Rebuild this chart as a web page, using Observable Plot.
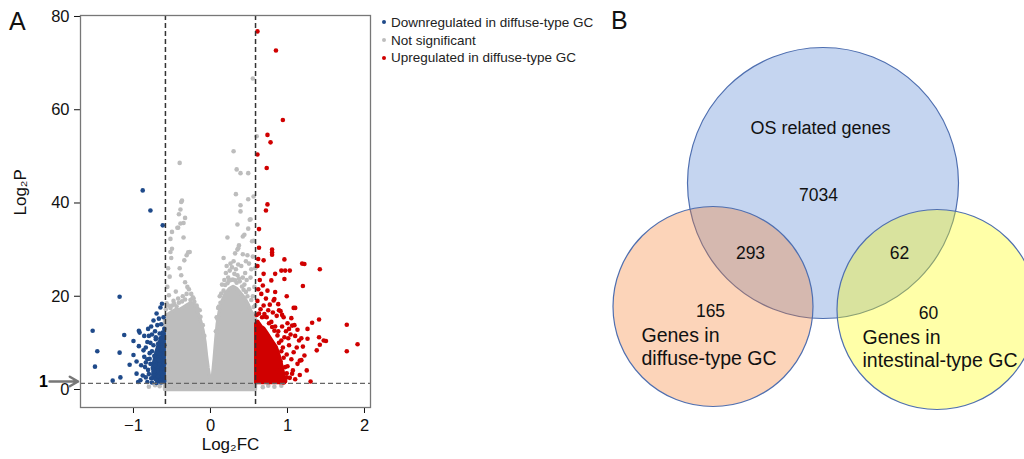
<!DOCTYPE html>
<html><head><meta charset="utf-8">
<script src="https://cdn.jsdelivr.net/npm/d3@7"></script>
<script src="https://cdn.jsdelivr.net/npm/@observablehq/plot@0.6"></script>
<style>
body{margin:0;background:#fff;font-family:"Liberation Sans",Arial,sans-serif;}
#fig{position:relative;width:1024px;height:459px;overflow:hidden;background:#fff}
.panel{position:absolute;font-size:25px;color:#111;line-height:1}
#legend{position:absolute;left:382px;top:14px;font-size:13.5px;line-height:17.7px;color:#222}
#legend .dot{display:inline-block;width:4px;height:4px;border-radius:50%;margin-right:5px;vertical-align:middle;position:relative;top:-1px}
#volcano,#venn{position:absolute;top:0}
#volcano{left:0}
#venn{left:600px}
</style></head>
<body>
<div id="fig">
  <div class="panel" style="left:9px;top:9px">A</div>
  <div class="panel" style="left:611px;top:8px">B</div>
  <div id="volcano"></div>
  <div id="legend"></div>
  <div id="venn"></div>
</div>
<script>
// ---------- Panel A data ----------
const xTicks = [-1, 0, 1, 2];
const yTicks = [0, 20, 40, 60, 80];
const fcThresholds = [-0.585, 0.585];
const pThreshold = 1.3;

const legendLabels = ["Downregulated in diffuse-type GC", "Not significant", "Upregulated in diffuse-type GC"];
const groupColors = ["#1f4a8a", "#bdbdbd", "#d00000"];

// dense grey cloud envelope (log2FC, upper log2P)
const greyCoreX = [-0.59,-0.55,-0.5,-0.45,-0.4,-0.35,-0.3,-0.25,-0.2,-0.16,-0.12,-0.09,-0.065,-0.045,-0.025,-0.005,0.015,0.035,0.055,0.075,0.095,0.12,0.16,0.2,0.25,0.3,0.35,0.4,0.45,0.5,0.55,0.59];
const greyCoreTop = [15.5,16,16.5,17,17,17.5,18,18.5,18,16.5,14.5,12.5,10,7,4.5,2.5,1.3,3,6.5,10.5,14,16.5,19,20.5,21.5,22,21.5,20.5,19.5,18,16,15];

// dense red cloud envelope
const redCoreX = [0.595,0.62,0.66,0.70,0.74,0.78,0.82,0.86,0.90,0.94,0.97];
const redCoreTop = [14,14.5,13.5,13,12,11,10,9,7,4.5,2];

// dense blue cloud envelope
const blueCoreX = [-0.74,-0.70,-0.66,-0.62,-0.595];
const blueCoreTop = [5,8,10,11.5,12];
const blueCoreBottom = [2.5,2,1.6,1.5,1.5];

const greyPoints = [
[-0.40,48.6],[-0.38,40.2],[-0.37,40.5],[-0.39,38.6],[-0.41,37.6],[-0.33,36.8],[-0.39,35.6],[-0.42,34.7],[-0.35,35.7],[-0.43,34.7],
[-0.50,33.8],[-0.52,32.3],[-0.35,32.6],[-0.27,29.5],[-0.52,29.5],[-0.51,28.2],[-0.50,30.2],[-0.29,29.4],[-0.31,28.8],[-0.34,27.7],
[-0.55,26.0],[-0.53,24.2],[-0.56,22.0],[-0.54,20.2],[-0.40,26.0],[-0.38,24.5],[-0.33,23.0],[-0.30,22.0],[-0.28,21.5],[-0.25,20.5],
[-0.22,19.5],[-0.45,21.0],[-0.48,19.0],[-0.42,19.5],[-0.36,20.0],[-0.57,18.5],[-0.50,18.0],[-0.26,19.2],[-0.18,18.0],[-0.14,17.0],
[-0.58,17.2],[-0.55,18.0],[-0.52,17.5],[-0.47,18.3],[-0.44,17.8],[-0.41,18.6],[-0.37,18.9],[-0.33,19.3],[-0.31,20.5],[-0.23,19.8],
[-0.21,18.8],[-0.17,17.4],[-0.13,15.6],[-0.10,13.8],[-0.08,11.5],
[0.55,66.7],[0.60,54.3],[0.30,51.1],[0.34,47.2],[0.39,46.4],[0.49,46.4],[0.33,41.9],[0.39,39.5],[0.39,38.2],[0.49,40.8],
[0.56,41.4],[0.35,35.4],[0.51,36.4],[0.52,36.5],[0.49,34.5],[0.42,32.8],[0.44,33.2],[0.22,32.6],[0.54,31.8],[0.56,31.9],
[0.36,30.3],[0.37,30.9],[0.17,28.2],[0.35,30.0],[0.30,27.5],[0.26,27.0],[0.28,26.2],[0.33,25.8],[0.40,26.5],[0.45,25.0],
[0.50,27.0],[0.55,28.5],[0.58,26.0],[0.20,25.0],[0.23,24.0],[0.47,23.5],[0.52,24.0],[0.57,22.0],[0.15,22.5],[0.18,23.5],
[0.35,24.5],[0.42,24.0],[0.12,20.0],[0.55,20.0],[0.50,21.5],[0.58,18.0],[0.27,23.5],[0.31,24.8],[0.38,23.2],[0.44,22.5],
[0.10,17.5],[0.08,15.5],
[0.07,12.5],[0.09,15.2],[0.11,17.8],[0.13,18.6],[0.14,20.6],[0.17,21.2],[0.19,22.4],[0.22,22.8],[0.24,23.3],[0.29,23.6],
[0.32,23.4],[0.34,22.9],[0.37,23.8],[0.41,22.1],[0.43,21.4],[0.46,20.9],[0.48,20.0],[0.53,19.2],[0.56,17.7],[0.58,16.3],
[0.21,26.5],[0.25,25.5],[0.36,26.8],[0.46,27.5],[0.53,25.8],[0.48,28.8],[0.32,29.2],[0.42,29.0],
[-0.72,0.9],[-0.66,0.7],[-0.80,0.6],[0.75,0.8],[0.92,0.8],[0.68,0.5],[0.83,0.6]
];

const downPoints = [
[-0.88,42.7],[-0.78,38.4],[-0.62,35.2],[-1.18,19.9],[-1.53,12.6],[-1.47,8.2],[-1.50,4.9],[-1.27,1.9],[-1.17,2.6],[-1.18,7.9],
[-1.12,11.7],[-1.00,10.4],[-0.92,12.2],[-0.93,12.6],[-0.93,9.3],[-1.05,5.3],[-1.00,7.4],[-0.96,6.0],[-0.96,3.4],[-0.94,1.6],
[-0.87,8.4],[-0.82,10.2],[-0.80,11.5],[-0.81,13.0],[-0.74,14.8],[-0.70,16.3],[-0.65,17.6],[-0.63,18.4],[-0.67,15.2],[-0.69,13.8],
[-0.64,14.0],[-0.61,15.5],[-0.60,13.0],[-0.62,12.2],[-0.66,12.0],[-0.72,12.5],[-0.76,11.8],[-0.78,10.0],[-0.74,9.5],[-0.71,10.8],
[-0.68,9.8],[-0.63,10.5],[-0.60,9.5],[-0.84,9.0],[-0.86,7.0],[-0.82,6.5],[-0.79,7.8],[-0.76,8.2],[-0.73,7.2],[-0.70,6.5],
[-0.67,7.8],[-0.64,8.5],[-0.61,7.2],[-0.90,5.2],[-0.85,4.8],[-0.81,4.2],[-0.78,5.5],[-0.75,4.6],[-0.72,5.2],[-0.69,4.0],
[-0.66,5.5],[-0.63,4.5],[-0.60,5.5],[-0.88,3.0],[-0.84,2.6],[-0.80,3.3],[-0.77,2.4],[-0.74,3.2],[-0.71,2.2],[-0.68,2.8],
[-0.65,2.0],[-0.62,3.0],[-0.60,1.8],[-0.82,1.6],[-0.76,1.5],[-0.70,1.4],[-0.64,1.5],[-0.91,2.0],[-0.86,11.5],[-0.77,13.5],
[-0.71,11.2],[-0.65,11.0],[-0.62,9.0],[-0.67,6.3],[-0.73,3.9],[-0.79,6.6],[-0.84,5.8]
];

const upPoints = [
[0.61,76.8],[0.85,72.7],[0.94,57.8],[0.74,54.6],[0.78,53.0],[0.61,50.4],[0.73,47.5],[0.74,39.7],[0.72,38.4],[0.63,34.4],
[0.63,30.4],[0.80,30.0],[0.80,29.4],[0.80,28.9],[0.69,27.7],[0.96,27.9],[1.19,27.0],[1.22,26.9],[1.42,25.8],[0.92,25.5],
[0.97,25.5],[1.03,25.5],[0.84,24.8],[0.69,24.8],[0.96,23.7],[0.79,23.4],[0.68,22.3],[1.20,22.2],[0.84,20.9],[0.99,20.0],
[0.82,19.1],[0.83,19.4],[0.69,18.0],[1.08,17.5],[1.10,17.5],[0.62,28.0],[0.61,26.5],[0.64,23.5],[0.62,21.5],[0.66,20.5],
[0.74,21.2],[0.72,19.5],[0.61,19.0],[0.77,18.2],[0.65,17.2],[0.75,17.0],[0.88,18.3],[0.91,16.8],[0.81,16.5],[0.70,16.2],
[0.86,15.8],[0.95,15.5],[1.05,15.3],[1.00,14.2],[0.93,13.5],[0.98,12.5],[1.04,11.8],[1.10,11.5],[1.41,15.0],[1.32,14.3],
[1.77,13.9],[1.26,13.0],[1.41,11.2],[1.47,10.5],[1.50,10.4],[1.42,9.6],[1.91,9.7],[1.77,8.2],[1.38,8.4],[1.26,10.9],
[1.22,7.3],[1.16,6.2],[1.18,6.3],[1.25,4.1],[1.16,3.1],[1.30,1.7],[1.07,4.1],[1.12,9.0],[1.15,10.5],[1.08,8.0],
[1.02,9.5],[1.05,6.5],[0.99,7.5],[1.00,5.0],[1.03,2.5],[0.97,1.8],[1.10,2.2],[0.92,10.5],[0.88,12.5],[0.84,13.5],
[0.79,14.5],[0.73,15.5],[1.13,12.8],[1.18,11.0],[1.20,9.2],[1.09,13.8],[1.02,13.0],[0.96,11.2],[0.94,9.0],[1.13,5.5],
[1.06,3.4],[0.99,3.5],[0.89,17.0],[0.93,16.0],[1.06,13.7],[0.91,6.0],[0.88,4.0],[0.86,2.2],[0.93,3.0],[1.01,11.0],
[0.60,16.0],[0.63,16.3],[0.67,15.5],[0.71,15.6],[0.76,14.2],[0.80,13.4],[0.83,12.6],[0.87,11.6],[0.89,10.0],[0.92,8.2],
[0.95,6.8],[0.97,4.8],[0.99,2.6],[0.90,1.6],[0.95,1.5]
];

// ---------- Panel B data ----------
const vennCounts = [7034, 293, 62, 165, 60];
const vennRegions = ["OS only", "OS ∩ diffuse", "OS ∩ intestinal", "diffuse only", "intestinal only"];
const vennSetNames = ["OS related genes", "Genes in\ndiffuse-type GC", "Genes in\nintestinal-type GC"];

// layout (pixels of the figure)
const vennCircleLayout = [
  {cx: 822.5, cy: 182.5, r: 135.5, fill: "#c5d5f0", op: 1},
  {cx: 712.5, cy: 306, r: 100, fill: "rgb(245,125,43)", op: 0.33},
  {cx: 936.5, cy: 309, r: 100, fill: "rgb(255,255,3)", op: 0.345}
];
const vennCountPos = [[818,195],[750,253],[899,253],[710,311],[928,313]];
const vennNamePos = [[820,127,"middle",18],[641,345.5,"start",19.5],[862,348,"start",19.5]];

// ---------- Panel A ----------
const tbl = a => a.map(([x, y]) => ({x, y}));
const font = '"Liberation Sans", Arial, sans-serif';
const fmt = d => d < 0 ? "\u2212" + Math.abs(d) : String(d);
const volcano = Plot.plot({
  width: 380, height: 459,
  marginLeft: 80, marginRight: 10, marginTop: 15, marginBottom: 52,
  style: {fontFamily: font, fontSize: "16.5px", color: "#111", background: "transparent", overflow: "visible"},
  x: {domain: [-1.688, 2.078], ticks: xTicks, tickFormat: fmt, tickSize: 6, tickPadding: 6, label: null},
  y: {domain: [-3.86, 80.21], ticks: yTicks, tickFormat: fmt, tickSize: 6, tickPadding: 5, label: null},
  marks: [
    Plot.areaY(greyCoreX.map((x, i) => ({x, lo: -0.1, hi: greyCoreTop[i]})), {x: "x", y1: "lo", y2: "hi", fill: groupColors[1], stroke: groupColors[1], strokeWidth: 3.5, strokeLinejoin: "round"}),
    Plot.dot(tbl(greyPoints), {x: "x", y: "y", r: 2.3, fill: groupColors[1]}),
    Plot.areaY(blueCoreX.map((x, i) => ({x, lo: blueCoreBottom[i], hi: blueCoreTop[i]})), {x: "x", y1: "lo", y2: "hi", fill: groupColors[0], stroke: groupColors[0], strokeWidth: 3.5, strokeLinejoin: "round"}),
    Plot.dot(tbl(downPoints), {x: "x", y: "y", r: 2.3, fill: groupColors[0]}),
    Plot.areaY(redCoreX.map((x, i) => ({x, lo: 1.4, hi: redCoreTop[i]})), {x: "x", y1: "lo", y2: "hi", fill: groupColors[2], stroke: groupColors[2], strokeWidth: 3.5, strokeLinejoin: "round"}),
    Plot.dot(tbl(upPoints), {x: "x", y: "y", r: 2.3, fill: groupColors[2]}),
    Plot.ruleX(fcThresholds, {stroke: "#333", strokeWidth: 1.5, strokeDasharray: "5,3"}),
    Plot.ruleY([pThreshold], {stroke: "#666", strokeWidth: 1.3, strokeDasharray: "5,3"}),
    Plot.frame({stroke: "#777", strokeWidth: 1.3}),
    Plot.arrow([{x1: -2.09, x2: -1.72, y: 1.72}], {x1: "x1", x2: "x2", y1: "y", y2: "y", stroke: "#777", strokeWidth: 2.5, headLength: 9}),
    Plot.text(["1"], {x: -2.17, y: 1.6, text: d => d, fontSize: 16, fontWeight: "bold", fill: "#000"}),
    Plot.text(["Log₂FC"], {frameAnchor: "bottom", dx: 5, dy: 42, text: d => d, fontSize: 17, fill: "#111"}),
    Plot.text(["Log₂P"], {frameAnchor: "left", dx: -60, dy: 4, rotate: -90, text: d => d, fontSize: 17, fill: "#111"})
  ]
});
document.getElementById("volcano").append(volcano);

const legend = d3.select("#legend");
legendLabels.forEach((t, i) => {
  const row = legend.append("div");
  row.append("span").attr("class", "dot").style("background", groupColors[i]);
  row.append("span").text(t);
});

// ---------- Panel B ----------
const venn = Plot.plot({
  width: 424, height: 459,
  margin: 0,
  style: {fontFamily: font, color: "#111", background: "transparent"},
  x: {type: "linear", domain: [600, 1024], range: [0, 424], axis: null},
  y: {type: "linear", domain: [0, 459], range: [0, 459], axis: null},
  r: {type: "linear", domain: [0, 200], range: [0, 200]},
  marks: [
    ...vennCircleLayout.map(c => Plot.dot([c], {x: "cx", y: "cy", r: "r", fill: c.fill, fillOpacity: c.op, stroke: "#4f6fb0", strokeWidth: 1.2})),
    Plot.text(vennCounts.map((n, i) => ({n, region: vennRegions[i], x: vennCountPos[i][0], y: vennCountPos[i][1]})), {x: "x", y: "y", text: d => String(d.n), fontSize: 17.5, fill: "#111"}),
    ...vennSetNames.map((s, i) => Plot.text([s], {x: vennNamePos[i][0], y: vennNamePos[i][1], text: d => d, textAnchor: vennNamePos[i][2], fontSize: vennNamePos[i][3], lineHeight: 1.16, fill: "#111"}))
  ]
});
document.getElementById("venn").append(venn);
</script>
</body></html>
